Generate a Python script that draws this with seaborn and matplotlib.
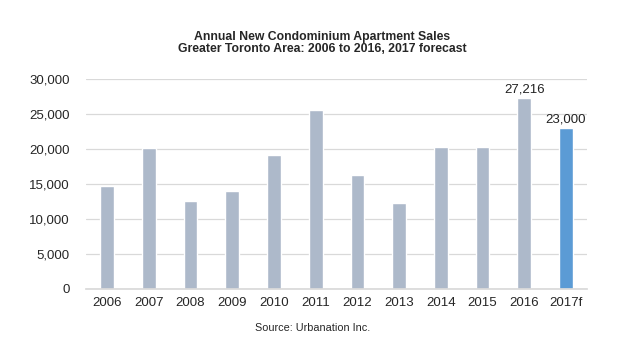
import matplotlib
matplotlib.use("Agg")
import matplotlib.pyplot as plt
import seaborn as sns
import pandas as pd

years = ["2006", "2007", "2008", "2009", "2010", "2011", "2012", "2013", "2014", "2015", "2016", "2017f"]
sales = [14700, 20100, 12600, 14000, 19100, 25600, 16300, 12300, 20300, 20300, 27216, 23000]
labelled = {"2016": "27,216", "2017f": "23,000"}
yticks = [0, 5000, 10000, 15000, 20000, 25000, 30000]

sns.set_theme(style="white")
plt.rcParams['font.family'] = ['Liberation Sans', 'DejaVu Sans']

df = pd.DataFrame({"year": years, "sales": sales})
palette = ["#ADB9CA"] * 11 + ["#5B9BD5"]

fig = plt.figure(figsize=(6.25, 3.46), dpi=100)
ax = fig.add_axes([0.138, 0.165, 0.801, 0.607])
sns.barplot(data=df, x="year", y="sales", hue="year", palette=palette, legend=False,
            width=0.33, ax=ax, saturation=1)

ax.set_ylim(0, 30000)
ax.set_yticks(yticks)
ax.set_yticklabels([f"{v:,}" for v in yticks], fontsize=9.5)
ax.tick_params(axis='x', labelsize=9.5, length=0, pad=6)
ax.tick_params(axis='y', length=0, pad=12)
ax.yaxis.grid(True, color="#D9D9D9", linewidth=0.9)
ax.set_axisbelow(True)
for s in ["top", "right", "left"]:
    ax.spines[s].set_visible(False)
ax.spines["bottom"].set_color("#D9D9D9")
ax.set_xlabel("")
ax.set_ylabel("")

for i, (y, v) in enumerate(zip(years, sales)):
    if y in labelled:
        ax.text(i, v + 350, labelled[y], ha="center", va="bottom", fontsize=9.5, color="#222222")

fig.text(0.515, 0.875, "Annual New Condominium Apartment Sales\nGreater Toronto Area: 2006 to 2016, 2017 forecast",
         ha="center", va="center", fontsize=8.8, fontweight="bold", linespacing=1.0)
fig.text(0.5, 0.052, "Source: Urbanation Inc.", ha="center", va="center", fontsize=7.8)

fig.savefig("out.png", dpi=100)
